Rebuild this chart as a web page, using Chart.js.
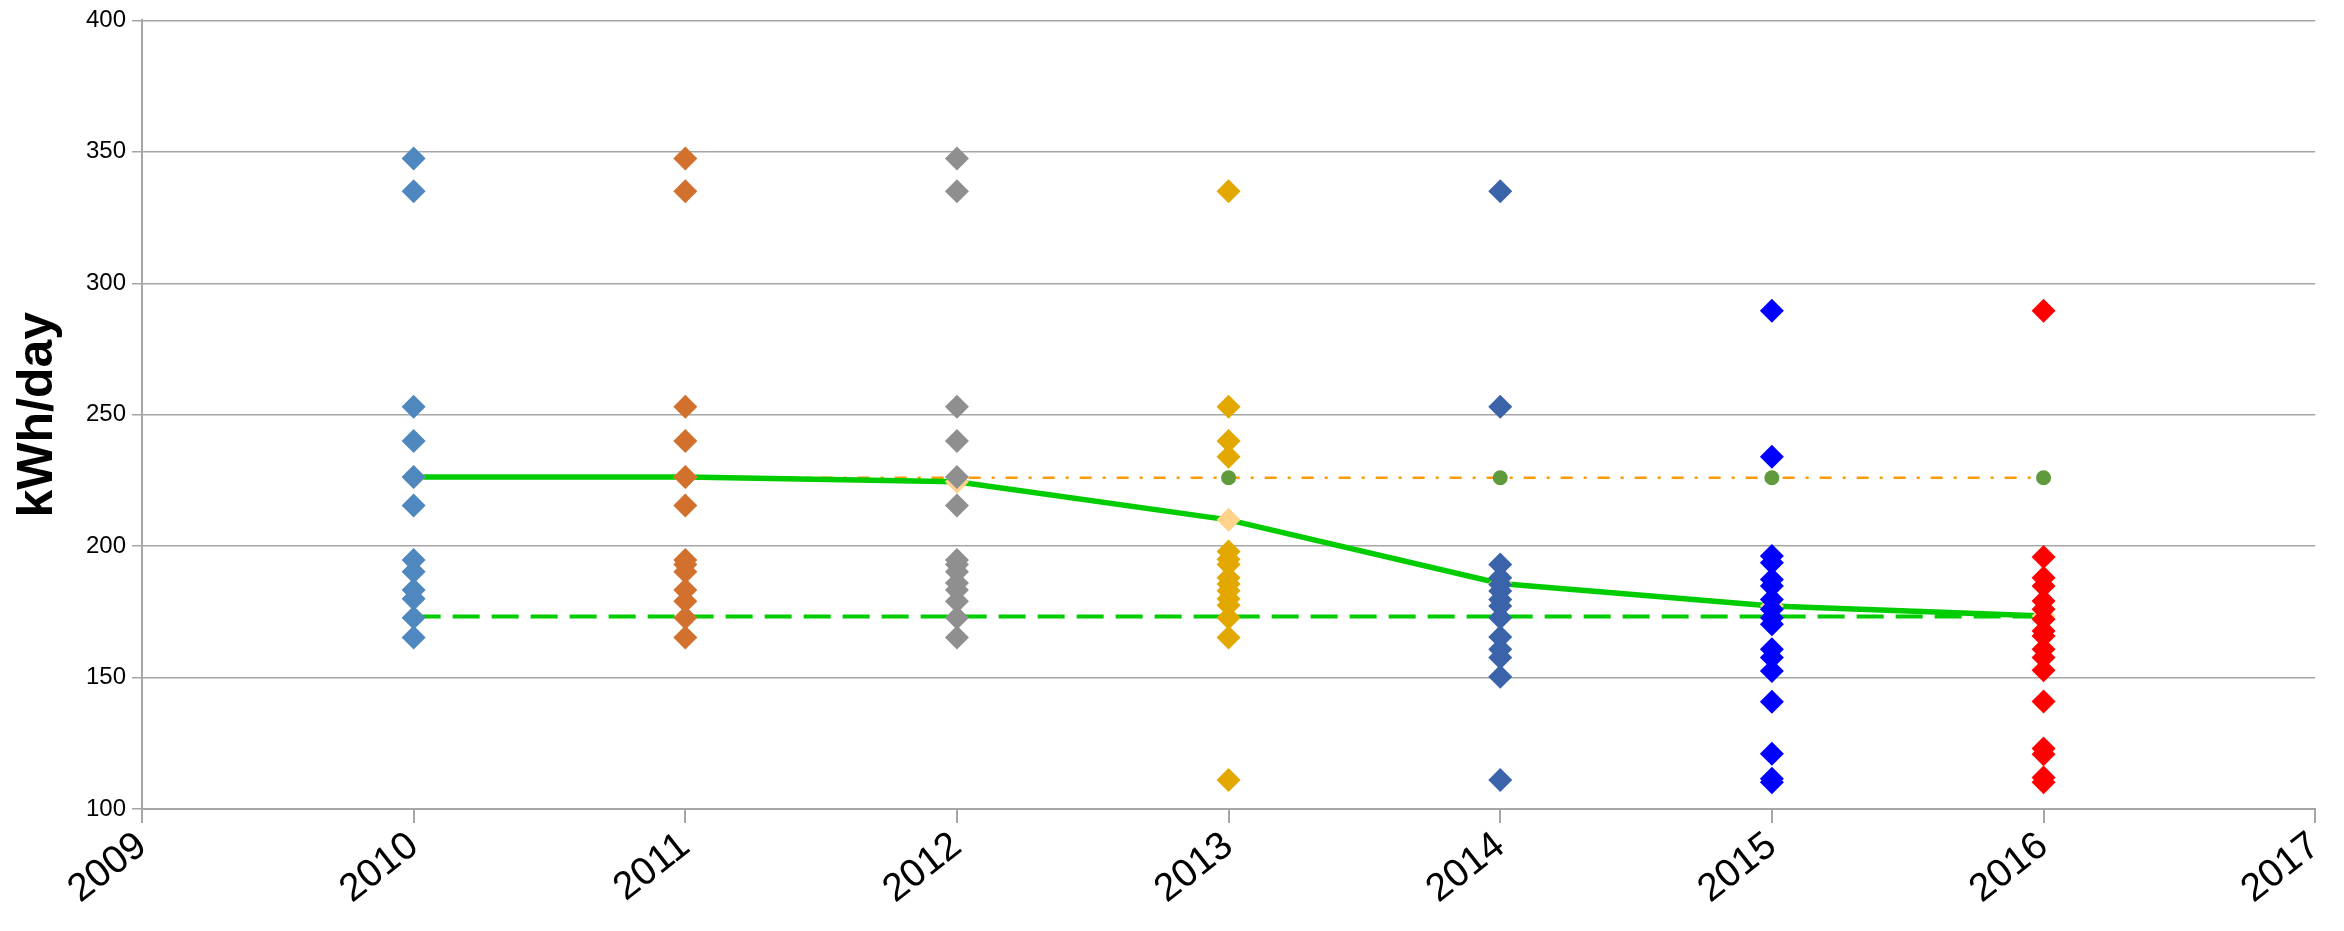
<!DOCTYPE html>
<html>
<head>
<meta charset="utf-8">
<title>kWh/day by year</title>
<script src="https://cdn.jsdelivr.net/npm/chart.js@4.4.1/dist/chart.umd.min.js"></script>
<style>
  html, body { margin: 0; padding: 0; background: #fff; }
  #chartBox { width: 2344px; height: 931px; }
</style>
</head>
<body>
<div id="chartBox"><canvas id="kwhChart"></canvas></div>
<script>
// values (kWh/day)
var years = [2010, 2011, 2012, 2013, 2014, 2015, 2016];
var xTicks = [2009, 2010, 2011, 2012, 2013, 2014, 2015, 2016, 2017];
var yTicks = [100, 150, 200, 250, 300, 350, 400];

var kwh2010 = [347.5, 335, 253, 240, 226.3, 215.5, 194.7, 190.3, 183.3, 180, 172.8, 165.2];
var kwh2011 = [347.5, 335, 253, 240, 226.3, 215.5, 194.7, 193, 190.3, 183.3, 179, 172.8, 165.2];
var kwh2012 = [347.5, 335, 253, 240, 226.3, 215.5, 194.7, 193, 190.3, 186, 183.3, 179, 172.8, 165.2];
var kwh2013 = [335, 253, 240, 234, 198, 195, 193, 188, 185.6, 183, 180, 177.5, 172.8, 165.2, 111];
var kwh2014 = [335, 253, 193, 188, 185.4, 182.9, 179.7, 177.2, 172.8, 165.4, 160.8, 157.6, 150.3, 111];
var kwh2015 = [289.5, 234, 196.2, 193.7, 187.3, 184.8, 179.7, 176, 172.8, 170.3, 160.8, 157.6, 152.5, 140.8, 121, 111.5, 110.2];
var kwh2016 = [289.5, 195.9, 188, 184.8, 179.1, 176, 172.2, 167.7, 165.8, 160.8, 157.6, 152.8, 140.9, 123, 120.8, 112, 110.2];

var averageByYear = [226.3, 226.3, 224.5, 210, 185.8, 177.2, 173.4];
var targetYears = [2010, 2016];
var targetValues = [173.2, 173.2];
var referenceValues = [226, 226, 226, 226, 226, 226, 226];

var yearColors = ['#4F88BE', '#D2702D', '#8F8F8F', '#E2A800', '#3B63A9', '#0000FF', '#FF0000'];
var yearValues = [kwh2010, kwh2011, kwh2012, kwh2013, kwh2014, kwh2015, kwh2016];

var toPoints = function(xs, ys) {
	var pts = [];
	for (var i = 0; i < ys.length; i++) {
		pts.push({ x: xs[i], y: ys[i] });
	}
	return pts;
};

var sameX = function(year, ys) {
	var pts = [];
	for (var i = 0; i < ys.length; i++) {
		pts.push({ x: year, y: ys[i] });
	}
	return pts;
};

var datasets = [];

// yearly diamonds first so they sit on top of the lines
for (var k = 0; k < years.length; k++) {
	datasets.push({
		label: String(years[k]),
		type: 'scatter',
		data: sameX(years[k], yearValues[k]),
		pointStyle: 'rectRot',
		pointRadius: 12,
		pointBorderWidth: 0,
		backgroundColor: yearColors[k],
		borderColor: yearColors[k],
		showLine: false
	});
}

// average line with pale diamonds
datasets.push({
	label: 'average',
	type: 'line',
	data: toPoints(years, averageByYear),
	borderColor: '#00CC00',
	borderWidth: 5.5,
	pointStyle: 'rectRot',
	pointRadius: 12,
	pointBorderWidth: 0,
	pointBackgroundColor: '#FFD38C',
	tension: 0,
	fill: false
});

// dashed target line
datasets.push({
	label: 'target',
	type: 'line',
	data: toPoints(targetYears, targetValues),
	borderColor: '#00CC00',
	borderWidth: 4,
	borderDash: [27, 12],
	pointRadius: 0,
	fill: false
});

// dash-dot reference with green dots
datasets.push({
	label: 'reference',
	type: 'line',
	data: toPoints(years, referenceValues),
	borderColor: '#FF9A00',
	borderWidth: 2.5,
	borderDash: [12, 11, 3, 11],
	pointStyle: 'circle',
	pointRadius: 7.5,
	pointBorderWidth: 0,
	pointBackgroundColor: '#5F9A3C',
	fill: false
});

var gridGray = '#A6A6A6';

var chart = new Chart(document.getElementById('kwhChart'), {
	type: 'scatter',
	data: { datasets: datasets },
	options: {
		responsive: true,
		maintainAspectRatio: false,
		animation: false,
		layout: { padding: { top: 18, right: 8, left: 0, bottom: 0 } },
		plugins: {
			legend: { display: false },
			tooltip: { enabled: false }
		},
		scales: {
			x: {
				type: 'linear',
				min: xTicks[0],
				max: xTicks[xTicks.length - 1],
				afterBuildTicks: function(scale) {
					scale.ticks = xTicks.map(function(v) { return { value: v }; });
				},
				afterFit: function(scale) { scale.height = 122; },
				grid: {
					drawOnChartArea: false,
					drawTicks: true,
					tickLength: 14,
					color: gridGray,
					lineWidth: 2
				},
				border: { color: gridGray, width: 2 },
				ticks: {
					minRotation: 38,
					maxRotation: 38,
					padding: 0,
					color: '#000',
					font: { family: 'Liberation Sans', size: 39 },
					callback: function(v) { return String(v); }
				}
			},
			y: {
				min: yTicks[0],
				max: yTicks[yTicks.length - 1],
				afterBuildTicks: function(scale) {
					scale.ticks = yTicks.map(function(v) { return { value: v }; });
				},
				afterFit: function(scale) { scale.width = 142; },
				grid: {
					color: gridGray,
					lineWidth: 1.5,
					tickLength: 10
				},
				border: { color: gridGray, width: 2 },
				ticks: {
					padding: 6,
					color: '#000',
					font: { family: 'Liberation Sans', size: 24 },
					callback: function(v) { return String(v); }
				},
				title: {
					display: true,
					text: 'kWh/day',
					color: '#000',
					padding: { top: 8, bottom: 0 },
					font: { family: 'Liberation Sans', size: 50, weight: 'bold' }
				}
			}
		}
	}
});
</script>
</body>
</html>
